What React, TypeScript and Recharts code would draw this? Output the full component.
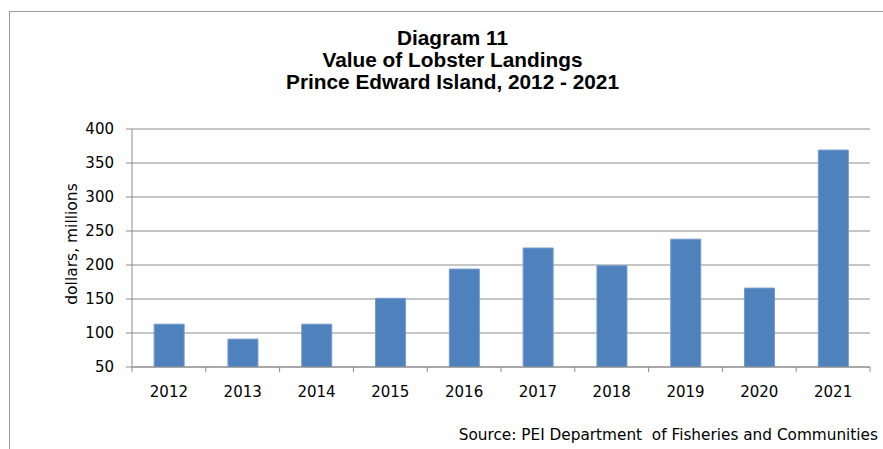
import { BarChart, Bar, XAxis, YAxis, CartesianGrid } from "recharts";

const years = ["2012", "2013", "2014", "2015", "2016", "2017", "2018", "2019", "2020", "2021"];
const landingValues = [113, 91, 113, 151, 194, 225, 199, 238, 166, 369];
const yTicks = [50, 100, 150, 200, 250, 300, 350, 400];

const titleLines = ["Diagram 11", "Value of Lobster Landings", "Prince Edward Island, 2012 - 2021"];
const sourceText = "Source: PEI Department  of Fisheries and Communities";

const data = years.map((year, i) => ({ year, value: landingValues[i] }));

const W = 883;
const H = 449;
const plotLeft = 132;
const plotRight = 870;
const band = (plotRight - plotLeft) / years.length;
const gridColor = "#8c8c8c";
const labelFont = "'DejaVu Sans', sans-serif";

const YearTick = (props: any) => {
  const { x, y, payload, index } = props;
  const left = x - band / 2;
  return (
    <g>
      <line x1={left} y1={y - 8} x2={left} y2={y - 3} stroke={gridColor} />
      {index === years.length - 1 && (
        <line x1={left + band} y1={y - 8} x2={left + band} y2={y - 3} stroke={gridColor} />
      )}
      <text x={x} y={y + 22} textAnchor="middle" fontSize={15} fontFamily={labelFont} fill="#000">
        {payload.value}
      </text>
    </g>
  );
};

const AxisTitle = (props: any) => {
  const { viewBox } = props;
  const cx = 72;
  const cy = viewBox.y + viewBox.height / 2 - 4;
  return (
    <text
      x={cx}
      y={cy}
      transform={`rotate(-90, ${cx}, ${cy})`}
      textAnchor="middle"
      dominantBaseline="central"
      fontSize={15.5}
      fontFamily={labelFont}
      fill="#000"
    >
      dollars, millions
    </text>
  );
};

export default function App() {
  return (
    <div style={{ position: "absolute", left: 0, top: 0, width: W, height: H, overflow: "hidden", background: "#fff" }}>
      <div
        style={{
          position: "absolute",
          left: 9,
          top: 11,
          width: 1000,
          height: 1000,
          borderLeft: "1.5px solid #9c9c9c",
          borderTop: "1.5px solid #9c9c9c",
        }}
      />
      <div
        style={{
          position: "absolute",
          left: 0,
          top: 27,
          width: 905,
          textAlign: "center",
          fontFamily: "'Liberation Sans', Arial, sans-serif",
          fontWeight: "bold",
          fontSize: 20.8,
          lineHeight: "22px",
          color: "#000",
        }}
      >
        {titleLines.map((t) => (
          <div key={t}>{t}</div>
        ))}
      </div>
      <BarChart
        width={W}
        height={H}
        data={data}
        margin={{ top: 129, right: W - plotRight, bottom: 52, left: 72 }}
        barCategoryGap="30%"
        style={{ position: "absolute", left: 0, top: 0 }}
      >
        <CartesianGrid vertical={false} stroke={gridColor} strokeWidth={1} />
        <XAxis
          dataKey="year"
          height={30}
          axisLine={{ stroke: gridColor }}
          tickLine={false}
          tick={<YearTick />}
          interval={0}
        />
        <YAxis
          width={60}
          domain={[50, 400]}
          ticks={yTicks}
          allowDataOverflow
          axisLine={{ stroke: gridColor }}
          tickLine={{ stroke: gridColor }}
          tickSize={6}
          tickMargin={12}
          tick={{ fontSize: 15, fontFamily: labelFont, fill: "#000" }}
          label={<AxisTitle />}
        />
        <Bar dataKey="value" fill="#4f81bd" stroke="#739bcf" strokeWidth={1} isAnimationActive={false} />
      </BarChart>
      <div
        style={{
          position: "absolute",
          right: 5,
          top: 426,
          fontFamily: labelFont,
          fontSize: 15.3,
          whiteSpace: "pre",
          color: "#000",
        }}
      >
        {sourceText}
      </div>
    </div>
  );
}
